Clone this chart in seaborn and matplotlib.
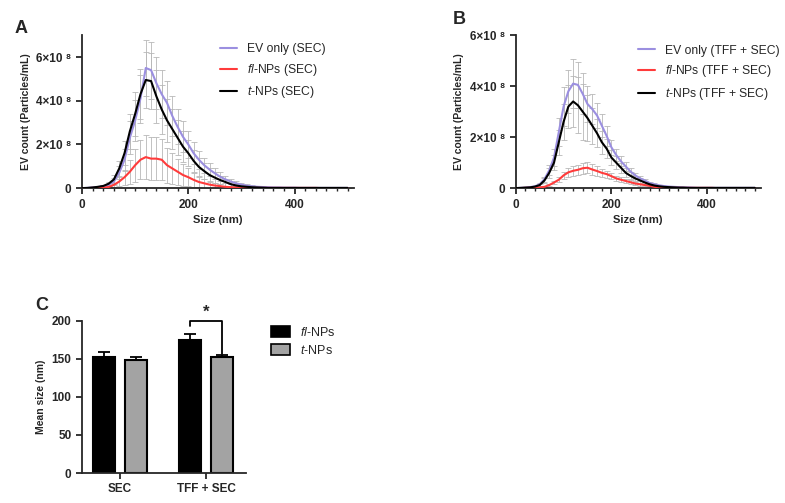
import matplotlib
matplotlib.use("Agg")
import matplotlib.pyplot as plt
import seaborn as sns
import numpy as np
import pandas as pd
from matplotlib.patches import Patch
from matplotlib.ticker import MultipleLocator

# size bins (nm), 0..500 step 10
sizes = list(range(0, 510, 10))

# Panel A (SEC), particle counts in units of 1e8 particles/mL
a_ev = [0, 0.01, 0.03, 0.05, 0.08, 0.15, 0.3, 0.7, 1.3, 2.3,
        3.1, 4.1, 5.5, 5.4, 4.8, 4.3, 3.9, 3.3, 2.8, 2.35,
        2.0, 1.6, 1.3, 1.05, 0.85, 0.68, 0.52, 0.4, 0.3, 0.22,
        0.16, 0.11, 0.08, 0.06, 0.05, 0.04, 0.03, 0.03, 0.02, 0.02,
        0.02, 0.01, 0.01, 0.01, 0.01, 0.01, 0.01, 0.01, 0.01, 0.01, 0.01]
a_ev_sd = [0, 0.01, 0.02, 0.03, 0.05, 0.08, 0.15, 0.3, 0.5, 0.75,
           0.95, 1.1, 1.3, 1.3, 1.2, 1.1, 1.0, 0.9, 0.8, 0.7,
           0.6, 0.5, 0.42, 0.35, 0.3, 0.25, 0.2, 0.16, 0.13, 0.1,
           0.08, 0.06, 0.05, 0.04, 0.03, 0.03, 0.02, 0.02, 0.02, 0.01,
           0.01, 0.01, 0.01, 0.01, 0.01, 0.01, 0.01, 0.01, 0.01, 0.01, 0.01]
a_fl = [0, 0, 0.01, 0.01, 0.02, 0.05, 0.15, 0.3, 0.5, 0.75,
        1.05, 1.3, 1.42, 1.35, 1.35, 1.3, 1.05, 0.9, 0.75, 0.6,
        0.5, 0.38, 0.28, 0.22, 0.16, 0.12, 0.09, 0.06, 0.04, 0.03,
        0.02, 0.01, 0.01, 0.01, 0.01, 0.01, 0.01, 0.01, 0.01, 0.01,
        0.01, 0.01, 0.01, 0.01, 0.01, 0, 0, 0, 0, 0, 0]
a_fl_sd = [0, 0, 0.01, 0.01, 0.02, 0.04, 0.1, 0.2, 0.35, 0.55,
           0.75, 0.9, 1.0, 1.0, 1.0, 0.95, 0.8, 0.7, 0.6, 0.5,
           0.4, 0.32, 0.25, 0.2, 0.15, 0.11, 0.08, 0.06, 0.04, 0.03,
           0.02, 0.01, 0.01, 0.01, 0.01, 0.01, 0.01, 0.01, 0.01, 0.01,
           0.01, 0.01, 0.01, 0.01, 0.01, 0, 0, 0, 0, 0, 0]
a_t = [0, 0.01, 0.03, 0.06, 0.1, 0.2, 0.4, 0.9, 1.6, 2.6,
       3.4, 4.3, 4.95, 4.9, 4.2, 3.6, 3.1, 2.7, 2.3, 1.9,
       1.6, 1.25, 0.97, 0.78, 0.6, 0.48, 0.37, 0.28, 0.18, 0.12,
       0.08, 0.06, 0.04, 0.03, 0.02, 0.01, 0.01, 0.01, 0.01, 0.01,
       0.01, 0.01, 0.01, 0.01, 0.01, 0.01, 0.01, 0.01, 0.01, 0.01, 0.01]
a_t_sd = [0, 0.01, 0.02, 0.03, 0.05, 0.1, 0.2, 0.35, 0.55, 0.8,
          1.0, 1.15, 1.3, 1.3, 1.2, 1.1, 1.0, 0.9, 0.8, 0.7,
          0.6, 0.5, 0.42, 0.35, 0.3, 0.24, 0.2, 0.16, 0.12, 0.09,
          0.07, 0.05, 0.04, 0.03, 0.02, 0.02, 0.01, 0.01, 0.01, 0.01,
          0.01, 0.01, 0.01, 0.01, 0.01, 0.01, 0.01, 0.01, 0.01, 0.01, 0.01]

# Panel B (TFF + SEC)
b_ev = [0, 0.01, 0.02, 0.04, 0.07, 0.15, 0.35, 0.7, 1.2, 2.2,
        3.2, 3.8, 4.1, 4.05, 3.7, 3.3, 3.1, 2.85, 2.45, 2.05,
        1.6, 1.3, 1.05, 0.85, 0.65, 0.5, 0.38, 0.3, 0.2, 0.15,
        0.11, 0.08, 0.06, 0.05, 0.04, 0.03, 0.03, 0.02, 0.01, 0.01,
        0.01, 0.01, 0.01, 0.01, 0.01, 0.01, 0.01, 0.01, 0.01, 0.01, 0.01]
b_ev_sd = [0, 0.01, 0.01, 0.02, 0.03, 0.05, 0.1, 0.2, 0.35, 0.55,
           0.75, 0.85, 0.95, 0.9, 0.8, 0.7, 0.6, 0.5, 0.45, 0.38,
           0.3, 0.25, 0.2, 0.17, 0.14, 0.11, 0.09, 0.07, 0.05, 0.04,
           0.03, 0.02, 0.02, 0.02, 0.01, 0.01, 0.01, 0.01, 0.01, 0.01,
           0.01, 0.01, 0.01, 0.01, 0.01, 0.01, 0.01, 0.01, 0.01, 0.01, 0.01]
b_fl = [0, 0, 0.01, 0.01, 0.02, 0.03, 0.05, 0.12, 0.22, 0.33,
        0.5, 0.62, 0.68, 0.72, 0.78, 0.8, 0.73, 0.67, 0.6, 0.55,
        0.47, 0.38, 0.33, 0.28, 0.23, 0.18, 0.15, 0.12, 0.09, 0.05,
        0.03, 0.02, 0.01, 0.01, 0.01, 0.01, 0.01, 0.01, 0.01, 0.01,
        0.01, 0.01, 0, 0, 0, 0, 0, 0, 0, 0, 0]
b_fl_sd = [0, 0, 0, 0.01, 0.01, 0.01, 0.02, 0.04, 0.07, 0.1,
           0.14, 0.17, 0.2, 0.2, 0.22, 0.22, 0.2, 0.18, 0.16, 0.14,
           0.12, 0.1, 0.09, 0.08, 0.07, 0.06, 0.05, 0.04, 0.03, 0.02,
           0.02, 0.01, 0.01, 0.01, 0.01, 0.01, 0.01, 0.01, 0.01, 0.01,
           0.01, 0.01, 0, 0, 0, 0, 0, 0, 0, 0, 0]
b_t = [0, 0.01, 0.02, 0.03, 0.06, 0.12, 0.3, 0.6, 1.0, 1.8,
       2.6, 3.2, 3.4, 3.25, 3.0, 2.75, 2.45, 2.15, 1.8, 1.55,
       1.2, 1.0, 0.8, 0.6, 0.48, 0.38, 0.3, 0.22, 0.15, 0.1,
       0.07, 0.05, 0.04, 0.03, 0.02, 0.02, 0.01, 0.01, 0.01, 0.01,
       0.01, 0.01, 0.01, 0.01, 0.01, 0.01, 0.01, 0.01, 0.01, 0.01, 0.01]
b_t_sd = [0, 0.01, 0.01, 0.02, 0.03, 0.05, 0.1, 0.2, 0.3, 0.5,
          0.7, 0.85, 1.0, 1.1, 1.1, 0.9, 0.7, 0.55, 0.45, 0.38,
          0.3, 0.25, 0.2, 0.17, 0.14, 0.11, 0.09, 0.07, 0.05, 0.04,
          0.03, 0.02, 0.02, 0.01, 0.01, 0.01, 0.01, 0.01, 0.01, 0.01,
          0.01, 0.01, 0.01, 0.01, 0.01, 0.01, 0.01, 0.01, 0.01, 0.01, 0.01]

labels_a = ["EV only (SEC)", r"$\it{fl}$-NPs (SEC)", r"$\it{t}$-NPs (SEC)"]
labels_b = ["EV only (TFF + SEC)", r"$\it{fl}$-NPs (TFF + SEC)", r"$\it{t}$-NPs (TFF + SEC)"]
line_colors = ["#9b8fe0", "#ff3b3b", "#000000"]
y_ticks = [0, 2e8, 4e8, 6e8]
y_ticklabels = ["0", "2×10 ⁸", "4×10 ⁸", "6×10 ⁸"]
x_ticks = [0, 200, 400]

# Panel C: mean size
methods = ["SEC", "TFF + SEC"]
np_types = [r"$\it{fl}$-NPs", r"$\it{t}$-NPs"]
mean_fl = [152, 175]
mean_t = [149, 153]
sd_fl = [7, 8]
sd_t = [3, 2]
bar_colors = ["#000000", "#a3a3a3"]

sns.set_style("ticks")
plt.rcParams["font.family"] = ["Liberation Sans", "DejaVu Sans"]
plt.rcParams["mathtext.fontset"] = "custom"
plt.rcParams["mathtext.it"] = "Liberation Sans:italic"
plt.rcParams["mathtext.rm"] = "Liberation Sans"
plt.rcParams["axes.linewidth"] = 1.3
plt.rcParams["xtick.major.width"] = 1.3
plt.rcParams["ytick.major.width"] = 1.3
plt.rcParams["xtick.minor.width"] = 1.0

fig = plt.figure(figsize=(7.85, 5.03), dpi=100)


def line_panel(rect, series, sds, labels, ymax, leg_anchor):
    ax = fig.add_axes(rect)
    x = np.array(sizes)
    for vals, sd in zip(series, sds):
        y = np.array(vals) * 1e8
        e = np.array(sd) * 1e8
        ax.errorbar(x, y, yerr=e, fmt="none", ecolor="#b8b8b8",
                    elinewidth=0.6, capsize=2.2, capthick=0.6, zorder=1)
    for vals, lab, col in zip(series, labels, line_colors):
        df = pd.DataFrame({"size": sizes, "count": np.array(vals) * 1e8})
        sns.lineplot(data=df, x="size", y="count", ax=ax, color=col,
                     linewidth=1.5, label=lab, zorder=3)
    ax.set_xlim(0, 512)
    ax.set_ylim(0, ymax)
    ax.set_xticks(x_ticks)
    ax.xaxis.set_minor_locator(MultipleLocator(20))
    ax.set_yticks(y_ticks)
    ax.set_yticklabels(y_ticklabels)
    ax.tick_params(axis="both", labelsize=8.5, length=4)
    ax.tick_params(axis="x", which="minor", length=2.5)
    for t in ax.get_xticklabels() + ax.get_yticklabels():
        t.set_fontweight("bold")
    ax.set_xlabel("Size (nm)", fontsize=8, fontweight="bold", labelpad=3)
    ax.set_ylabel("EV count (Particles/mL)", fontsize=7.5, fontweight="bold", labelpad=4)
    sns.despine(ax=ax)
    ax.legend(frameon=False, fontsize=8.7, loc="upper left",
              bbox_to_anchor=leg_anchor, handlelength=1.4,
              handletextpad=0.8, labelspacing=0.55, borderaxespad=0)
    return ax


axA = line_panel([0.1045, 0.626, 0.3465, 0.304], [a_ev, a_fl, a_t],
                 [a_ev_sd, a_fl_sd, a_t_sd], labels_a, 7e8, (0.49, 0.98))
axB = line_panel([0.657, 0.626, 0.312, 0.304], [b_ev, b_fl, b_t],
                 [b_ev_sd, b_fl_sd, b_t_sd], labels_b, 6e8, (0.48, 0.97))

# Panel C
axC = fig.add_axes([0.1045, 0.0596, 0.209, 0.3024])
dfc = pd.DataFrame({
    "method": methods * 2,
    "type": [np_types[0]] * 2 + [np_types[1]] * 2,
    "mean": mean_fl + mean_t,
    "sd": sd_fl + sd_t,
})
sns.barplot(data=dfc, x="method", y="mean", hue="type", order=methods,
            hue_order=np_types, palette=bar_colors, width=0.76, gap=0.33,
            edgecolor="black", linewidth=1.5, errorbar=None, ax=axC,
            legend=False)
for i, (m, s) in enumerate(zip(mean_fl, sd_fl)):
    axC.errorbar(i - 0.19, m, yerr=[[0], [s]], fmt="none", ecolor="black",
                 elinewidth=1.3, capsize=4, capthick=1.3, zorder=0)
for i, (m, s) in enumerate(zip(mean_t, sd_t)):
    axC.errorbar(i + 0.19, m, yerr=[[0], [s]], fmt="none", ecolor="black",
                 elinewidth=1.3, capsize=4, capthick=1.3, zorder=0)
axC.set_xlim(-0.442, 1.465)
axC.set_ylim(0, 200)
axC.set_yticks([0, 50, 100, 150, 200])
axC.tick_params(axis="both", labelsize=8.5, length=4)
for t in axC.get_xticklabels() + axC.get_yticklabels():
    t.set_fontweight("bold")
axC.set_xlabel("")
axC.set_ylabel("Mean size (nm)", fontsize=7.5, fontweight="bold", labelpad=4)
sns.despine(ax=axC)

# significance bracket
axC.plot([0.81, 0.81, 1.19, 1.19], [193, 200, 200, 157], color="black",
         linewidth=1.3, clip_on=False)
axC.text(1.0, 201, "*", ha="center", va="bottom", fontsize=12,
         fontweight="bold")

handles = [Patch(facecolor=c, edgecolor="black", linewidth=1.2) for c in bar_colors]
axC.legend(handles, np_types, frameon=False, fontsize=9, loc="upper left",
           bbox_to_anchor=(1.12, 1.0), handlelength=1.5, handleheight=0.9,
           handletextpad=0.8, labelspacing=0.4, borderaxespad=0)

# panel letters
fig.text(0.019, 0.934, "A", fontsize=13, fontweight="bold")
fig.text(0.577, 0.952, "B", fontsize=13, fontweight="bold")
fig.text(0.045, 0.384, "C", fontsize=13, fontweight="bold")

fig.savefig("out.png", dpi=100)
